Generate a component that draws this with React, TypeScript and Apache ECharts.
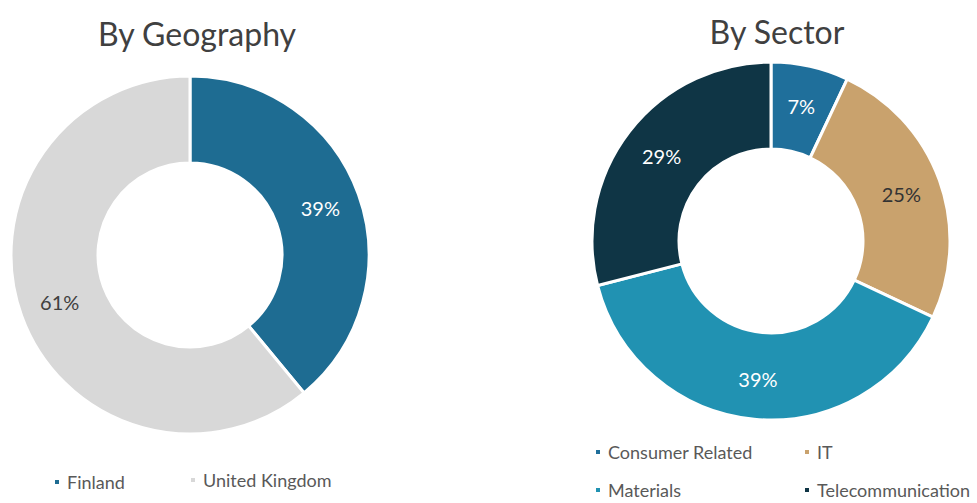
import React, { useEffect, useRef } from "react";
import * as echarts from "echarts";

const geoNames = ["Finland", "United Kingdom"];
const geoValues = [39, 61];
const sectorNames = ["Consumer Related", "IT", "Materials", "Telecommunication"];
const sectorValues = [7, 25, 39, 29];
const titles = ["By Geography", "By Sector"];

const geoColors = ["#1e6c92", "#d8d8d8"];
const geoLabelColors = ["#ffffff", "#404040"];
const sectorColors = ["#1f6f9b", "#c9a26d", "#2192b2", "#0f3545"];
const sectorLabelColors = ["#ffffff", "#333333", "#ffffff", "#ffffff"];

const FONT = "Lato, 'Open Sans', sans-serif";

export default function App() {
  const ref = useRef<HTMLDivElement>(null);
  useEffect(() => {
    if (!ref.current) return;
    const chart = echarts.init(ref.current, null, { renderer: "svg" });
    const legendPos = [
      { name: geoNames[0], left: 53, top: 473 },
      { name: geoNames[1], left: 189, top: 471 },
      { name: sectorNames[0], left: 594, top: 443 },
      { name: sectorNames[1], left: 803, top: 443 },
      { name: sectorNames[2], left: 594, top: 481 },
      { name: sectorNames[3], left: 803, top: 481 },
    ];
    chart.setOption({
      animation: false,
      backgroundColor: "#ffffff",
      graphic: [
        {
          type: "text",
          x: 197,
          y: 33,
          style: {
            text: titles[0],
            fontFamily: FONT,
            fontSize: 32,
            fill: "#404040",
            textAlign: "center",
            textVerticalAlign: "middle",
          },
        },
        {
          type: "text",
          x: 777,
          y: 31,
          style: {
            text: titles[1],
            fontFamily: FONT,
            fontSize: 32,
            fill: "#404040",
            textAlign: "center",
            textVerticalAlign: "middle",
          },
        },
      ],
      legend: legendPos.map((l) => ({
        data: [l.name],
        left: l.left,
        top: l.top,
        icon: "rect",
        itemWidth: 6,
        itemHeight: 6,
        itemGap: 0,
        padding: 0,
        selectedMode: false,
        textStyle: { fontFamily: FONT, fontSize: 18, color: "#595959", padding: [0, 0, 0, 2] },
      })),
      series: [
        {
          type: "pie",
          center: [190, 255],
          radius: [92, 179],
          startAngle: 90,
          clockwise: true,
          itemStyle: { borderColor: "#ffffff", borderWidth: 3 },
          label: { show: true, position: "inside", formatter: "{c}%", fontFamily: FONT, fontSize: 20 },
          labelLine: { show: false },
          emphasis: { disabled: true },
          data: geoNames.map((n, i) => ({
            name: n,
            value: geoValues[i],
            itemStyle: { color: geoColors[i] },
            label: { color: geoLabelColors[i] },
          })),
        },
        {
          type: "pie",
          center: [771, 241],
          radius: [92, 179],
          startAngle: 90,
          clockwise: true,
          itemStyle: { borderColor: "#ffffff", borderWidth: 3 },
          label: { show: true, position: "inside", formatter: "{c}%", fontFamily: FONT, fontSize: 20 },
          labelLine: { show: false },
          emphasis: { disabled: true },
          data: sectorNames.map((n, i) => ({
            name: n,
            value: sectorValues[i],
            itemStyle: { color: sectorColors[i] },
            label: { color: sectorLabelColors[i] },
          })),
        },
      ],
    });
    return () => chart.dispose();
  }, []);
  return (
    <div
      ref={ref}
      style={{ position: "fixed", left: 0, top: 0, width: 977, height: 503, background: "#fff" }}
    />
  );
}
